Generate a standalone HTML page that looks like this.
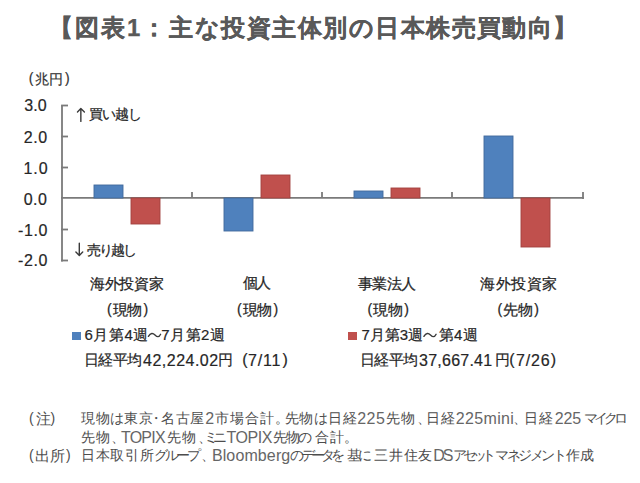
<!DOCTYPE html>
<html lang="ja">
<head>
<meta charset="utf-8">
<title>図表1</title>
<style>
html,body{margin:0;padding:0;background:#fff;}
body{width:640px;height:483px;position:relative;overflow:hidden;font-family:"Liberation Sans",sans-serif;}
.t{position:absolute;white-space:nowrap;line-height:1;}
.t span{display:inline-block;}
svg{position:absolute;left:0;top:0;}
</style>
</head>
<body>
<svg width="640" height="483" viewBox="0 0 640 483" id="chart">
  <g stroke="#7a7a7a" stroke-width="1.8" fill="none">
    <line x1="62" y1="105.5" x2="62" y2="261.4"/>
    <line x1="61.1" y1="105.5" x2="68" y2="105.5"/>
    <line x1="61.1" y1="136.5" x2="68" y2="136.5"/>
    <line x1="61.1" y1="167.5" x2="68" y2="167.5"/>
    <line x1="61.1" y1="229.5" x2="68" y2="229.5"/>
    <line x1="61.1" y1="260.5" x2="68" y2="260.5"/>
  </g>
  <g stroke="#7a7a7a" stroke-width="1.8" fill="none">
    <line x1="61.1" y1="197.9" x2="583.9" y2="197.9"/>
    <line x1="192" y1="192" x2="192" y2="198"/>
    <line x1="322" y1="192" x2="322" y2="198"/>
    <line x1="452" y1="192" x2="452" y2="198"/>
    <line x1="583" y1="192" x2="583" y2="198.9"/>
  </g>
  <rect x="94" y="185" width="29" height="13" fill="#4f81bd" stroke="#41699b" stroke-width="0.9"/>
  <rect x="131" y="198" width="29" height="26" fill="#c0504d" stroke="#a3413e" stroke-width="0.9"/>
  <rect x="224" y="198" width="29" height="33" fill="#4f81bd" stroke="#41699b" stroke-width="0.9"/>
  <rect x="261" y="175" width="29" height="23" fill="#c0504d" stroke="#a3413e" stroke-width="0.9"/>
  <rect x="354" y="191" width="29" height="7" fill="#4f81bd" stroke="#41699b" stroke-width="0.9"/>
  <rect x="391" y="188" width="29" height="10" fill="#c0504d" stroke="#a3413e" stroke-width="0.9"/>
  <rect x="484" y="136" width="29" height="62" fill="#4f81bd" stroke="#41699b" stroke-width="0.9"/>
  <rect x="521" y="198" width="29" height="49" fill="#c0504d" stroke="#a3413e" stroke-width="0.9"/>
  <g stroke="#3a3a3a" stroke-width="1.4" fill="none" stroke-linecap="round" stroke-linejoin="round">
    <path d="M80.85 121.4V108.8M77.5 111.9L80.85 108.6L84.4 111.9"/>
    <path d="M79.3 243.2V255.3M75.9 252.1L79.3 255.4L82.7 252.1"/>
    <path d="M148.4 336.3C150.6 332.6 153 332.9 155 334.9S159 337.7 160.6 334.3"/>
    <path d="M423.9 336.3C426.1 332.6 428.5 332.9 430.5 334.9S434.5 337.7 436.1 334.3"/>
  </g>
  <rect x="72" y="332" width="9" height="8" fill="#4f81bd"/>
  <rect x="348" y="332" width="9" height="8" fill="#c0504d"/>
</svg>
<div class="t" id="title" style="left:49px;top:15.92px;font-size:24px;font-weight:bold;color:#595959;-webkit-text-stroke:0.25px #595959;"><span style="letter-spacing:2px;">【図表1：</span><span style="margin-left:1px;letter-spacing:1.47px;">主な投資主体別の日本株売買動向】</span></div>
<div class="t" id="choen" style="left:28.75px;top:71.92px;font-size:14px;color:#333;-webkit-text-stroke:0.2px #333;"><span style="font-size:14px;position:relative;top:-1px;">(</span><span style="margin-left:1.5px;">兆円</span><span style="margin-left:2px;font-size:14px;position:relative;top:-1px;">)</span></div>
<div class="t" id="y3" style="left:24.3px;top:98.23px;font-size:16px;color:#262626;-webkit-text-stroke:0.2px #262626;"><span>3.0</span></div>
<div class="t" id="y2" style="left:23.8px;top:129.78px;font-size:16px;color:#262626;-webkit-text-stroke:0.2px #262626;"><span style="letter-spacing:0.5px;">2.0</span></div>
<div class="t" id="y1" style="left:23.4px;top:161.38px;font-size:16px;color:#262626;-webkit-text-stroke:0.2px #262626;"><span style="letter-spacing:1px;">1.0</span></div>
<div class="t" id="y0" style="left:23.7px;top:191.88px;font-size:16px;color:#262626;-webkit-text-stroke:0.2px #262626;"><span style="letter-spacing:0.5px;">0.0</span></div>
<div class="t" id="ym1" style="left:17.9px;top:223.18px;font-size:16px;color:#262626;-webkit-text-stroke:0.2px #262626;"><span style="letter-spacing:0.67px;">-1.0</span></div>
<div class="t" id="ym2" style="left:17.9px;top:253.48px;font-size:16px;color:#262626;-webkit-text-stroke:0.2px #262626;"><span style="letter-spacing:0.67px;">-2.0</span></div>
<div class="t" id="buy" style="left:88.9px;top:107.32px;font-size:14px;color:#262626;-webkit-text-stroke:0.25px #262626;"><span style="letter-spacing:-1px;">買い越し</span></div>
<div class="t" id="sell" style="left:86.9px;top:242.62px;font-size:14px;color:#262626;-webkit-text-stroke:0.25px #262626;"><span style="letter-spacing:-2px;">売り越し</span></div>
<div class="t" id="c1a" style="left:89.9px;top:275.75px;font-size:15px;color:#262626;-webkit-text-stroke:0.25px #262626;"><span style="letter-spacing:-0.25px;">海外投資家</span></div>
<div class="t" id="c2a" style="left:242.5px;top:275.1px;font-size:15px;color:#262626;-webkit-text-stroke:0.25px #262626;"><span style="letter-spacing:-1.5px;">個人</span></div>
<div class="t" id="c3a" style="left:357.9px;top:275.75px;font-size:15px;color:#262626;-webkit-text-stroke:0.25px #262626;"><span style="letter-spacing:-0.67px;">事業法人</span></div>
<div class="t" id="c4a" style="left:480.3px;top:275.75px;font-size:15px;color:#262626;-webkit-text-stroke:0.25px #262626;"><span style="letter-spacing:0.5px;">海外投資家</span></div>
<div class="t" id="c1b" style="left:106.9px;top:301.5px;font-size:15px;color:#262626;-webkit-text-stroke:0.25px #262626;"><span style="font-size:14px;position:relative;top:-1px;">(</span><span style="margin-left:1px;letter-spacing:-0.5px;">現物</span><span style="margin-left:2px;font-size:14px;position:relative;top:-1px;">)</span></div>
<div class="t" id="c2b" style="left:236.9px;top:301.5px;font-size:15px;color:#262626;-webkit-text-stroke:0.25px #262626;"><span style="font-size:14px;position:relative;top:-1px;">(</span><span style="margin-left:1px;letter-spacing:-0.5px;">現物</span><span style="margin-left:2px;font-size:14px;position:relative;top:-1px;">)</span></div>
<div class="t" id="c3b" style="left:367.5px;top:301.5px;font-size:15px;color:#262626;-webkit-text-stroke:0.25px #262626;"><span style="font-size:14px;position:relative;top:-1px;">(</span><span style="margin-left:1px;letter-spacing:-0.5px;">現物</span><span style="margin-left:2px;font-size:14px;position:relative;top:-1px;">)</span></div>
<div class="t" id="c4b" style="left:497.5px;top:301.5px;font-size:15px;color:#262626;-webkit-text-stroke:0.25px #262626;"><span style="font-size:14px;position:relative;top:-1px;">(</span><span style="margin-left:1px;letter-spacing:-0.5px;">先物</span><span style="margin-left:2px;font-size:14px;position:relative;top:-1px;">)</span></div>
<div class="t" id="leg1" style="left:84.6px;top:327.3px;font-size:15px;color:#262626;-webkit-text-stroke:0.2px #262626;"><span style="letter-spacing:0.5px;">6月第4週</span><span style="margin-left:12.5px;letter-spacing:0.5px;">7月第2週</span></div>
<div class="t" id="leg2" style="left:361.5px;top:327.3px;font-size:15px;color:#262626;-webkit-text-stroke:0.2px #262626;"><span>7月第3週</span><span style="margin-left:15.5px;letter-spacing:0.25px;">第4週</span></div>
<div class="t" id="nik1" style="left:84px;top:352.2px;font-size:15px;color:#262626;-webkit-text-stroke:0.2px #262626;"><span style="letter-spacing:-0.67px;">日経平均</span><span style="margin-left:1.67px;letter-spacing:0.5px;font-size:16px;position:relative;top:1px;">42,224.02</span><span style="margin-left:-0.5px;">円</span><span style="margin-left:9px;font-size:16px;">(</span><span style="margin-left:0.5px;letter-spacing:0.83px;font-size:16px;position:relative;top:1px;">7/11</span><span style="margin-left:1.17px;font-size:16px;">)</span></div>
<div class="t" id="nik2" style="left:360px;top:352.2px;font-size:15px;color:#262626;-webkit-text-stroke:0.2px #262626;"><span style="letter-spacing:-0.67px;">日経平均</span><span style="margin-left:1.67px;letter-spacing:0.25px;font-size:16px;position:relative;top:1px;">37,667.41</span><span style="margin-left:2.75px;">円</span><span style="margin-left:-1px;font-size:16px;">(</span><span style="margin-left:1.5px;letter-spacing:0.83px;font-size:16px;position:relative;top:1px;">7/26</span><span style="margin-left:0.17px;font-size:16px;">)</span></div>
<div class="t" id="chu" style="left:28.9px;top:410.82px;font-size:14px;color:#4d4d4d;"><span style="font-size:14px;position:relative;top:-1px;">(</span><span style="margin-left:2px;font-size:15px;">注</span><span style="font-size:14px;position:relative;top:-1px;">)</span></div>
<div class="t" id="L1" style="left:81.2px;top:410.02px;font-size:14px;color:#4d4d4d;"><span style="letter-spacing:0.5px;">現物は</span><span style="margin-left:-0.5px;letter-spacing:1px;">東京</span><span style="margin-left:-5px;">・</span><span style="margin-left:-2px;letter-spacing:0.5px;">名古屋</span><span style="margin-left:0.5px;font-size:16px;color:#666;position:relative;top:1px;">2</span><span style="margin-left:1px;letter-spacing:0.87px;">市場合計。</span><span style="margin-left:-4.37px;letter-spacing:0.38px;">先物は日経</span><span style="margin-left:0.13px;letter-spacing:0.5px;font-size:16px;color:#666;position:relative;top:1px;">225</span><span style="margin-left:0.5px;letter-spacing:1.5px;">先物、</span><span style="margin-left:-6.5px;letter-spacing:1px;">日経</span><span style="letter-spacing:0.33px;font-size:16px;color:#666;position:relative;top:1px;">225mini</span><span style="margin-left:-1.33px;">、</span><span style="margin-left:-2.5px;letter-spacing:0.5px;">日経</span><span style="margin-left:1.5px;letter-spacing:-0.25px;font-size:16px;color:#666;position:relative;top:1px;">225</span><span style="margin-left:2.75px;letter-spacing:-4px;">マイクロ</span></div>
<div class="t" id="L2" style="left:80.9px;top:429.22px;font-size:14px;color:#4d4d4d;"><span style="letter-spacing:1px;">先物、</span><span style="margin-left:-5px;letter-spacing:-0.75px;font-size:16px;color:#666;position:relative;top:1px;">TOPIX</span><span style="margin-left:1.75px;letter-spacing:1.5px;">先物、</span><span style="margin-left:-9.5px;letter-spacing:-4.5px;">ミニ</span><span style="margin-left:4px;letter-spacing:-0.5px;font-size:16px;color:#666;position:relative;top:1px;">TOPIX</span><span style="margin-left:1.5px;letter-spacing:-1.75px;">先物の</span><span style="margin-left:4.75px;letter-spacing:0.75px;">合計。</span></div>
<div class="t" id="shu" style="left:28.9px;top:448.02px;font-size:14px;color:#4d4d4d;"><span style="font-size:14px;position:relative;top:-1px;">(</span><span style="margin-left:1px;font-size:15px;">出所</span><span style="margin-left:1.5px;font-size:14px;position:relative;top:-1px;">)</span></div>
<div class="t" id="L3" style="left:80.9px;top:447.22px;font-size:14px;color:#4d4d4d;"><span style="letter-spacing:0.75px;">日本取引所</span><span style="margin-left:-0.75px;letter-spacing:-3px;">グループ</span><span style="margin-left:3px;">、</span><span style="margin-left:-3px;letter-spacing:0.12px;font-size:16px;color:#666;position:relative;top:1px;">Bloomberg</span><span style="margin-left:-0.12px;">の</span><span style="margin-left:-3px;letter-spacing:-4.17px;">データを</span><span style="margin-left:6.67px;letter-spacing:-3.5px;">基に</span><span style="margin-left:6px;letter-spacing:0.67px;">三井住友</span><span style="margin-left:0.33px;letter-spacing:-2px;font-size:16px;color:#666;position:relative;top:1px;">DS</span><span style="margin-left:2px;letter-spacing:-4.33px;">アセット</span><span style="margin-left:2.83px;letter-spacing:-2.5px;">マネジメント</span><span style="margin-left:1.5px;">作成</span></div>
</body>
</html>
